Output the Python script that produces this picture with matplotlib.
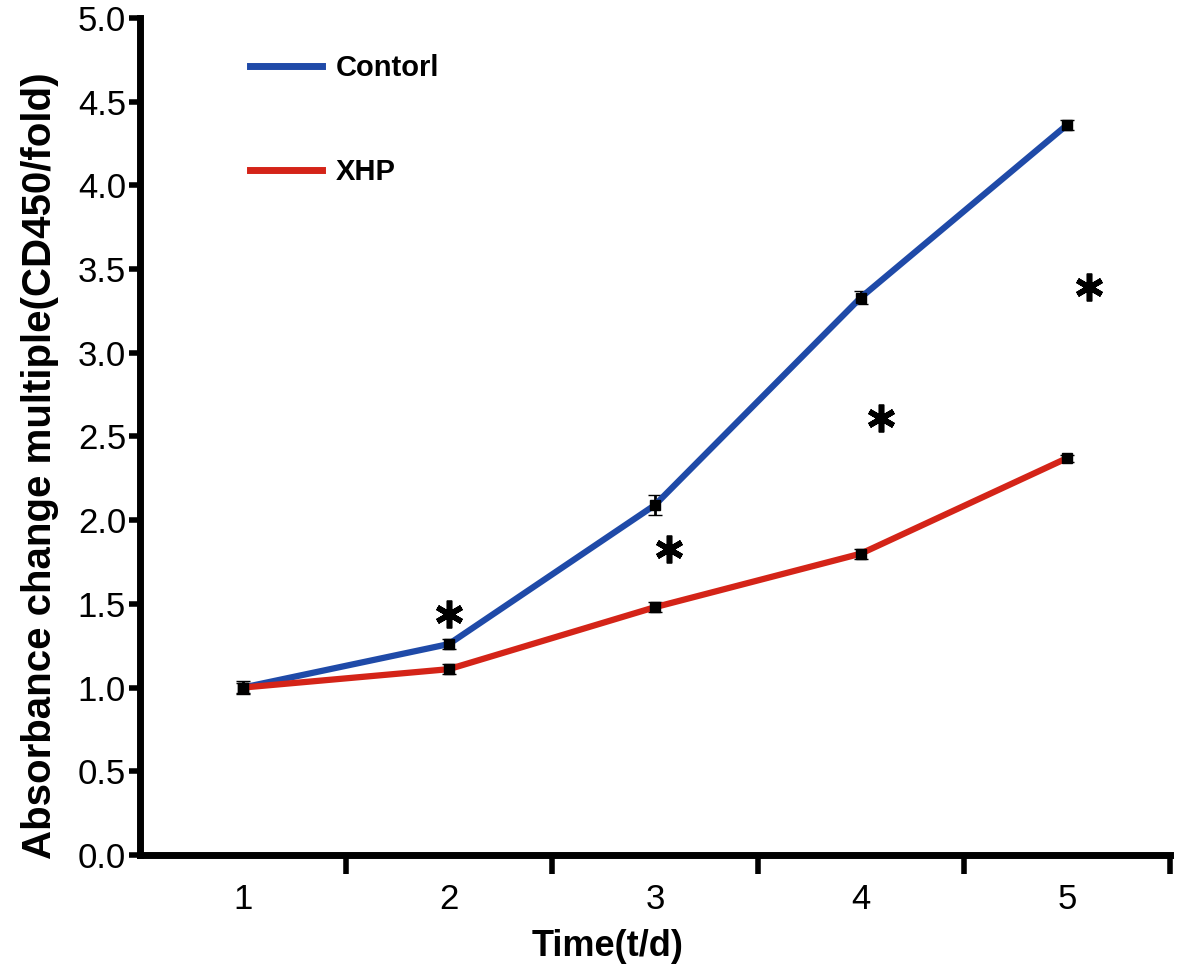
import numpy as np
import matplotlib
matplotlib.use("Agg")
import matplotlib.pyplot as plt
from matplotlib.lines import Line2D

# data
days = [1, 2, 3, 4, 5]
control = [1.00, 1.26, 2.09, 3.33, 4.36]
control_err = [0.04, 0.03, 0.06, 0.04, 0.03]
xhp = [1.00, 1.11, 1.48, 1.80, 2.37]
xhp_err = [0.03, 0.03, 0.03, 0.03, 0.02]
star_x = [2.0, 3.07, 4.1, 5.11]
star_y = [1.44, 1.83, 2.61, 3.39]

blue = '#1f4aa8'
red = '#d42418'

plt.rcParams['font.family'] = ['Liberation Sans', 'DejaVu Sans']

fig = plt.figure(figsize=(11.81, 9.71), dpi=100)
ax = fig.add_axes([0.1185, 0.1195, 0.872, 0.862])

ax.errorbar(days, control, yerr=control_err, color=blue, lw=4.5,
            marker='s', ms=7, mfc='black', mec='black',
            ecolor='black', elinewidth=2, capsize=5, zorder=3)
ax.errorbar(days, xhp, yerr=xhp_err, color=red, lw=4.5,
            marker='s', ms=7, mfc='black', mec='black',
            ecolor='black', elinewidth=2, capsize=5, zorder=3)
ax.plot(star_x, star_y, ls='none', marker=(6, 2, 0), ms=20, mew=4,
        color='black', zorder=4)

ax.set_xlim(0.5, 5.5)
ax.set_ylim(0, 5.0)
ax.set_xticks([1.5, 2.5, 3.5, 4.5, 5.5])
ax.set_xticklabels([])
ax.set_xticks(days, minor=True)
ax.set_xticklabels([str(d) for d in days], minor=True)
ax.tick_params(axis='x', which='minor', length=0, labelsize=25, pad=20)
ax.tick_params(axis='x', which='major', length=14, width=4, direction='out')
ax.set_yticks(np.arange(0, 5.01, 0.5))
ax.set_yticklabels(['%.1f' % v for v in np.arange(0, 5.01, 0.5)])
ax.tick_params(axis='y', length=8, width=4, labelsize=25, pad=2)

for s in ['top', 'right']:
    ax.spines[s].set_visible(False)
for s in ['left', 'bottom']:
    ax.spines[s].set_linewidth(5)

ax.set_xlabel('Time(t/d)', fontsize=26, fontweight='bold')
ax.xaxis.set_label_coords(0.454, -0.088)
ax.set_ylabel('Absorbance change multiple(CD450/fold)', fontsize=29,
              fontweight='bold')
ax.yaxis.set_label_coords(-0.079, 0.465)

handles = [Line2D([], [], color=blue, lw=5), Line2D([], [], color=red, lw=5)]
ax.legend(handles, ['Contorl', 'XHP'], loc='upper left',
          bbox_to_anchor=(0.107, 0.957), frameon=False, borderpad=0,
          borderaxespad=0, handlelength=2.45, handletextpad=0.5,
          labelspacing=2.6, prop={'weight': 'bold', 'size': 21})

fig.savefig('out.png', dpi=100)
